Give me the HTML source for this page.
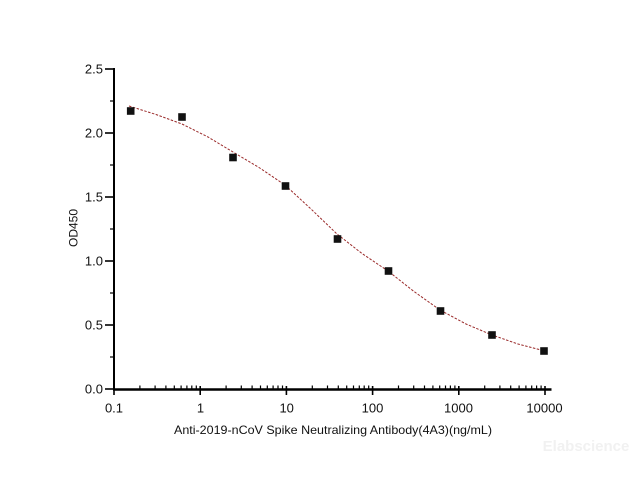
<!DOCTYPE html>
<html>
<head>
<meta charset="utf-8">
<style>
html,body{margin:0;padding:0;background:#fff;}
svg{display:block;}
text{font-family:"Liberation Sans",Arial,sans-serif;fill:#111;}
</style>
</head>
<body>
<svg width="640" height="480" viewBox="0 0 640 480" xmlns="http://www.w3.org/2000/svg">
<rect width="640" height="480" fill="#fff"/>

<!-- watermark -->
<text x="586" y="451" font-size="15" font-weight="bold" text-anchor="middle" style="fill:#f1f1f1">Elabscience</text>

<!-- axes -->
<line x1="114" y1="68" x2="114" y2="390" stroke="#000" stroke-width="2"/>
<line x1="113" y1="389.5" x2="551.5" y2="389.5" stroke="#000" stroke-width="2.4"/>

<!-- y major ticks -->
<g stroke="#000" stroke-width="1.6">
<line x1="105" y1="69" x2="114" y2="69"/>
<line x1="105" y1="133" x2="114" y2="133"/>
<line x1="105" y1="197" x2="114" y2="197"/>
<line x1="105" y1="261" x2="114" y2="261"/>
<line x1="105" y1="325" x2="114" y2="325"/>
<line x1="105" y1="389" x2="114" y2="389"/>
</g>
<!-- y minor ticks -->
<g stroke="#000" stroke-width="1.2">
<line x1="110" y1="101" x2="114" y2="101"/>
<line x1="110" y1="165" x2="114" y2="165"/>
<line x1="110" y1="229" x2="114" y2="229"/>
<line x1="110" y1="293" x2="114" y2="293"/>
<line x1="110" y1="357" x2="114" y2="357"/>
</g>

<!-- x major ticks -->
<g stroke="#000" stroke-width="1.6">
<line x1="114" y1="386" x2="114" y2="395"/>
<line x1="200.2" y1="386" x2="200.2" y2="395"/>
<line x1="286.4" y1="386" x2="286.4" y2="395"/>
<line x1="372.6" y1="386" x2="372.6" y2="395"/>
<line x1="458.8" y1="386" x2="458.8" y2="395"/>
<line x1="545" y1="386" x2="545" y2="395"/>
</g>
<!-- x minor ticks -->
<path stroke="#000" stroke-width="1.2" fill="none" d="
M139.9 389V385.5 M155.1 389V385.5 M165.9 389V385.5 M174.3 389V385.5 M181.1 389V385.5 M186.9 389V385.5 M191.8 389V385.5 M196.3 389V385.5
M226.1 389V385.5 M241.3 389V385.5 M252.1 389V385.5 M260.5 389V385.5 M267.3 389V385.5 M273.1 389V385.5 M278 389V385.5 M282.5 389V385.5
M312.3 389V385.5 M327.5 389V385.5 M338.3 389V385.5 M346.7 389V385.5 M353.5 389V385.5 M359.3 389V385.5 M364.2 389V385.5 M368.7 389V385.5
M398.5 389V385.5 M413.7 389V385.5 M424.5 389V385.5 M432.9 389V385.5 M439.7 389V385.5 M445.5 389V385.5 M450.4 389V385.5 M454.9 389V385.5
M484.7 389V385.5 M499.9 389V385.5 M510.7 389V385.5 M519.1 389V385.5 M525.9 389V385.5 M531.7 389V385.5 M536.6 389V385.5 M541.1 389V385.5"/>

<!-- y tick labels -->
<g font-size="13" text-anchor="end">
<text x="103" y="73.5">2.5</text>
<text x="103" y="137.5">2.0</text>
<text x="103" y="201.5">1.5</text>
<text x="103" y="265.5">1.0</text>
<text x="103" y="329.5">0.5</text>
<text x="103" y="393.5">0.0</text>
</g>

<!-- x tick labels -->
<g font-size="13" text-anchor="middle">
<text x="114" y="412.5">0.1</text>
<text x="200.5" y="412.5">1</text>
<text x="286.7" y="412.5">10</text>
<text x="372.5" y="412.5">100</text>
<text x="458.5" y="412.5">1000</text>
<text x="544.5" y="412.5">10000</text>
</g>

<!-- axis titles -->
<text x="333" y="434" font-size="12" text-anchor="middle" textLength="318" lengthAdjust="spacingAndGlyphs">Anti-2019-nCoV Spike Neutralizing Antibody(4A3)(ng/mL)</text>
<text x="0" y="0" font-size="12" text-anchor="middle" transform="translate(77.5,228) rotate(-90)">OD450</text>

<!-- fitted curve -->
<polyline fill="none" stroke="#9a2a2a" stroke-width="1" stroke-dasharray="2.5 1.5"
points="129,106 156,114.5 182,124 208,137 233,152 259,167.5 285,185 311,209 337,234 362,253.5 388,271 414,291.5 440,310 466,324 492,335 518,344 541,350"/>

<!-- data points -->
<g fill="#111">
<rect x="126.9" y="107.2" width="7.6" height="7.6"/>
<rect x="178.2" y="113.2" width="7.6" height="7.6"/>
<rect x="229.2" y="153.7" width="7.6" height="7.6"/>
<rect x="281.7" y="182.2" width="7.6" height="7.6"/>
<rect x="333.7" y="235.2" width="7.6" height="7.6"/>
<rect x="384.7" y="267.2" width="7.6" height="7.6"/>
<rect x="436.7" y="307.2" width="7.6" height="7.6"/>
<rect x="488.2" y="331.2" width="7.6" height="7.6"/>
<rect x="540.2" y="347.2" width="7.6" height="7.6"/>
</g>
</svg>
</body>
</html>
